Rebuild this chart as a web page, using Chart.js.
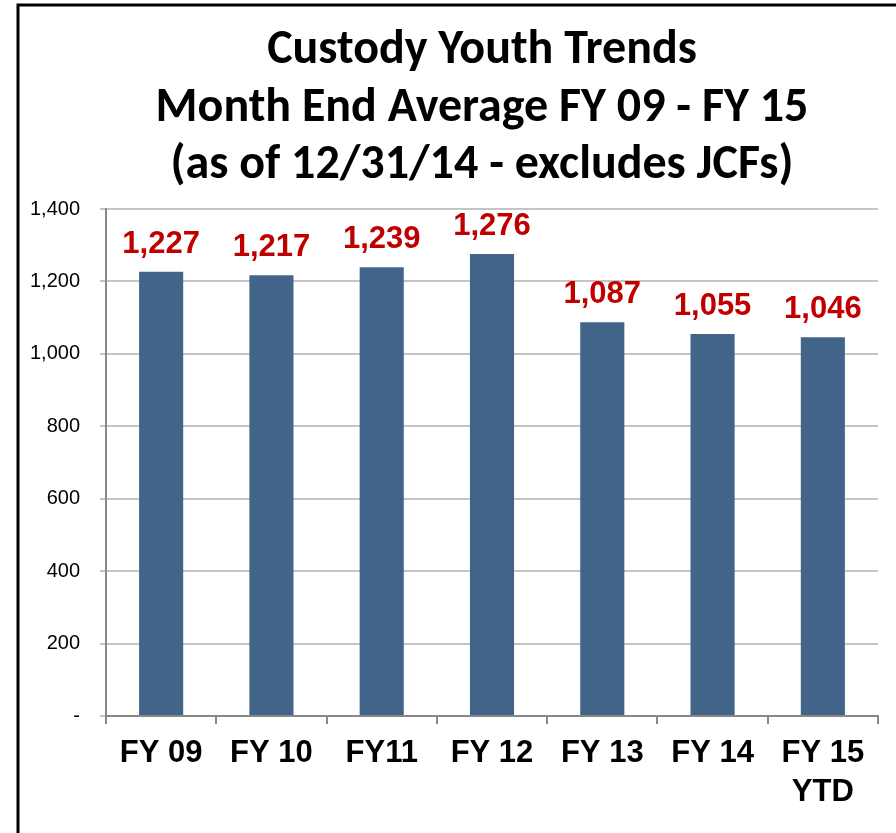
<!DOCTYPE html>
<html>
<head>
<meta charset="utf-8">
<script src="https://cdn.jsdelivr.net/npm/chart.js@4.4.1/dist/chart.umd.min.js"></script>
<style>
    html, body { margin: 0; padding: 0; background: #fff; }
    #chart { display: block; }
</style>
</head>
<body>
<canvas id="chart" width="896" height="833"></canvas>
<script>
// Data
const categories = ['FY 09', 'FY 10', 'FY11', 'FY 12', 'FY 13', 'FY 14', ['FY 15', 'YTD']];
const monthEndAverages = [1227, 1217, 1239, 1276, 1087, 1055, 1046];
const yTickValues = [0, 200, 400, 600, 800, 1000, 1200, 1400];
const titleLines = [
    'Custody Youth Trends',
    'Month End Average FY 09 - FY 15',
    '(as of 12/31/14 - excludes JCFs)'
];

const barColor = '#436489';
const labelRed = '#c00000';

// white background + black frame that runs off the right/bottom edge
const framePlugin = {
    id: 'frame',
    beforeDraw(chart) {
        const c = chart.ctx;
        c.save();
        c.fillStyle = '#fff';
        c.fillRect(0, 0, chart.width, chart.height);
        c.strokeStyle = '#000';
        c.lineWidth = 3;
        c.strokeRect(18, 5, chart.width + 20, chart.height + 20);
        c.restore();
    }
};

// three line title drawn by hand so the spacing matches
const titlePlugin = {
    id: 'titleLines',
    afterDraw(chart) {
        const c = chart.ctx;
        c.save();
        c.font = 'bold 48px Carlito, Lato, "Open Sans", sans-serif';
        c.fillStyle = '#000';
        c.textAlign = 'center';
        c.textBaseline = 'alphabetic';
        titleLines.forEach((line, i) => {
            c.fillText(line, 482, 63 + i * 57.5);
        });
        c.restore();
    }
};

// red value labels above each bar
const valueLabelPlugin = {
    id: 'valueLabels',
    afterDatasetsDraw(chart) {
        const c = chart.ctx;
        const meta = chart.getDatasetMeta(0);
        c.save();
        c.font = 'bold 31px "Liberation Sans", Arial, sans-serif';
        c.fillStyle = labelRed;
        c.textAlign = 'center';
        c.textBaseline = 'alphabetic';
        meta.data.forEach((bar, i) => {
            c.fillText(monthEndAverages[i].toLocaleString('en-US'), bar.x, bar.y - 19);
        });
        c.restore();
    }
};

new Chart(document.getElementById('chart'), {
    type: 'bar',
    data: {
        labels: categories,
        datasets: [{
            data: monthEndAverages,
            backgroundColor: barColor,
            borderWidth: 0,
            barPercentage: 0.8,
            categoryPercentage: 0.5
        }]
    },
    options: {
        responsive: false,
        animation: false,
        devicePixelRatio: 1,
        layout: { padding: { top: 209, right: 18, left: 0, bottom: 0 } },
        plugins: {
            legend: { display: false },
            title: { display: false },
            tooltip: { enabled: false }
        },
        scales: {
            x: {
                afterFit(scale) { scale.height = 117; },
                grid: {
                    display: true,
                    drawOnChartArea: false,
                    offset: true,
                    tickLength: 8,
                    tickColor: '#888',
                    lineWidth: 2
                },
                border: { color: '#888', width: 2 },
                ticks: {
                    color: '#000',
                    padding: 10,
                    maxRotation: 0,
                    autoSkip: false,
                    font: { family: '"Liberation Sans", Arial, sans-serif', size: 31, weight: 'bold', lineHeight: 1.25 }
                }
            },
            y: {
                min: 0,
                max: 1400,
                afterFit(scale) { scale.width = 106; },
                afterBuildTicks(scale) {
                    scale.ticks = yTickValues.map(v => ({ value: v }));
                },
                grid: {
                    color: '#c4c4c4',
                    lineWidth: 2,
                    tickLength: 6,
                    tickColor: '#c4c4c4'
                },
                border: { color: '#888', width: 2 },
                ticks: {
                    color: '#000',
                    padding: 20,
                    font: { family: '"Liberation Sans", Arial, sans-serif', size: 20 },
                    callback: v => v === 0 ? '-' : v.toLocaleString('en-US')
                }
            }
        }
    },
    plugins: [framePlugin, titlePlugin, valueLabelPlugin]
});
</script>
</body>
</html>
